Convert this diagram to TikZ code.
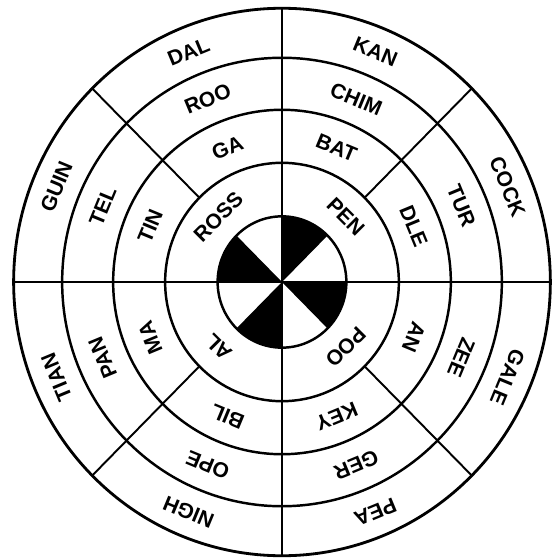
\documentclass[tikz,border=0pt]{standalone}
\usepackage{fontspec}
\newfontfamily\ringfont{Liberation Sans}
\usepackage{tikz}

\begin{document}
\begin{tikzpicture}[
    x=0.0198cm, y=0.0202cm,
    ring/.style={line width=1.4pt},
    rim/.style={line width=1.6pt},
    spoke/.style={line width=1.1pt},
    sector/.style={fill=black},
    word/.style={inner sep=0pt, font=\ringfont\bfseries\fontsize{12}{12}\selectfont},
]
\useasboundingbox (-5.64cm,-5.52cm) rectangle (5.52cm,5.64cm);

% Centre disc (black sectors)
\fill[sector] (0,0) -- (45:65) arc[start angle=45, end angle=90, radius=65] -- cycle;
\fill[sector] (0,0) -- (135:65) arc[start angle=135, end angle=180, radius=65] -- cycle;
\fill[sector] (0,0) -- (225:65) arc[start angle=225, end angle=270, radius=65] -- cycle;
\fill[sector] (0,0) -- (315:65) arc[start angle=315, end angle=360, radius=65] -- cycle;

% Rings
\draw[ring] (0,0) circle (65);
\draw[ring] (0,0) circle (118);
\draw[ring] (0,0) circle (170.5);
\draw[ring] (0,0) circle (222);
\draw[rim]  (0,0) circle (271);

% Spokes
\draw[spoke] (90:271) -- (270:271);
\draw[spoke] (180:271) -- (0:271);
\draw[spoke] (45:118) -- (45:271);
\draw[spoke] (135:118) -- (135:271);
\draw[spoke] (225:118) -- (225:271);
\draw[spoke] (315:118) -- (315:271);

% Inner ring
\node[word, rotate=45]   (ross) at (135:91) {ROSS};
\node[word, rotate=-45]  (pen)  at (45:91)  {PEN};
\node[word, rotate=-135] (poo)  at (-45:91) {POO};
\node[word, rotate=135]  (al)   at (225:91) {AL};

% Second ring
\node[word, rotate=22.5]   (ga)  at (112.5:144) {GA};
\node[word, rotate=-22.5]  (bat) at (67.5:144)  {BAT};
\node[word, rotate=-67.5]  (dle) at (22.5:144)  {DLE};
\node[word, rotate=-112.5] (an)  at (-22.5:144) {AN};
\node[word, rotate=-157.5] (key) at (-67.5:144) {KEY};
\node[word, rotate=157.5]  (bil) at (-112.5:144) {BIL};
\node[word, rotate=112.5]  (ma)  at (-157.5:144) {MA};
\node[word, rotate=67.5]   (tin) at (157.5:144) {TIN};

% Third ring
\node[word, rotate=22.5]   (roo)  at (112.5:196) {ROO};
\node[word, rotate=-22.5]  (chim) at (67.5:196)  {CHIM};
\node[word, rotate=-67.5]  (tur)  at (22.5:196)  {TUR};
\node[word, rotate=-112.5] (zee)  at (-22.5:196) {ZEE};
\node[word, rotate=-157.5] (ger)  at (-67.5:196) {GER};
\node[word, rotate=157.5]  (ope)  at (-112.5:196) {OPE};
\node[word, rotate=112.5]  (pan)  at (-157.5:196) {PAN};
\node[word, rotate=67.5]   (tel)  at (157.5:196) {TEL};

% Outer ring
\node[word, rotate=22.5]   (dal)  at (112.5:246.5) {DAL};
\node[word, rotate=-22.5]  (kan)  at (67.5:246.5)  {KAN};
\node[word, rotate=-67.5]  (cock) at (22.5:246.5)  {COCK};
\node[word, rotate=-112.5] (gale) at (-22.5:246.5) {GALE};
\node[word, rotate=-157.5] (pea)  at (-67.5:246.5) {PEA};
\node[word, rotate=157.5]  (nigh) at (-112.5:246.5) {NIGH};
\node[word, rotate=112.5]  (tian) at (-157.5:246.5) {TIAN};
\node[word, rotate=67.5]   (guin) at (157.5:246.5) {GUIN};

\end{tikzpicture}
\end{document}
